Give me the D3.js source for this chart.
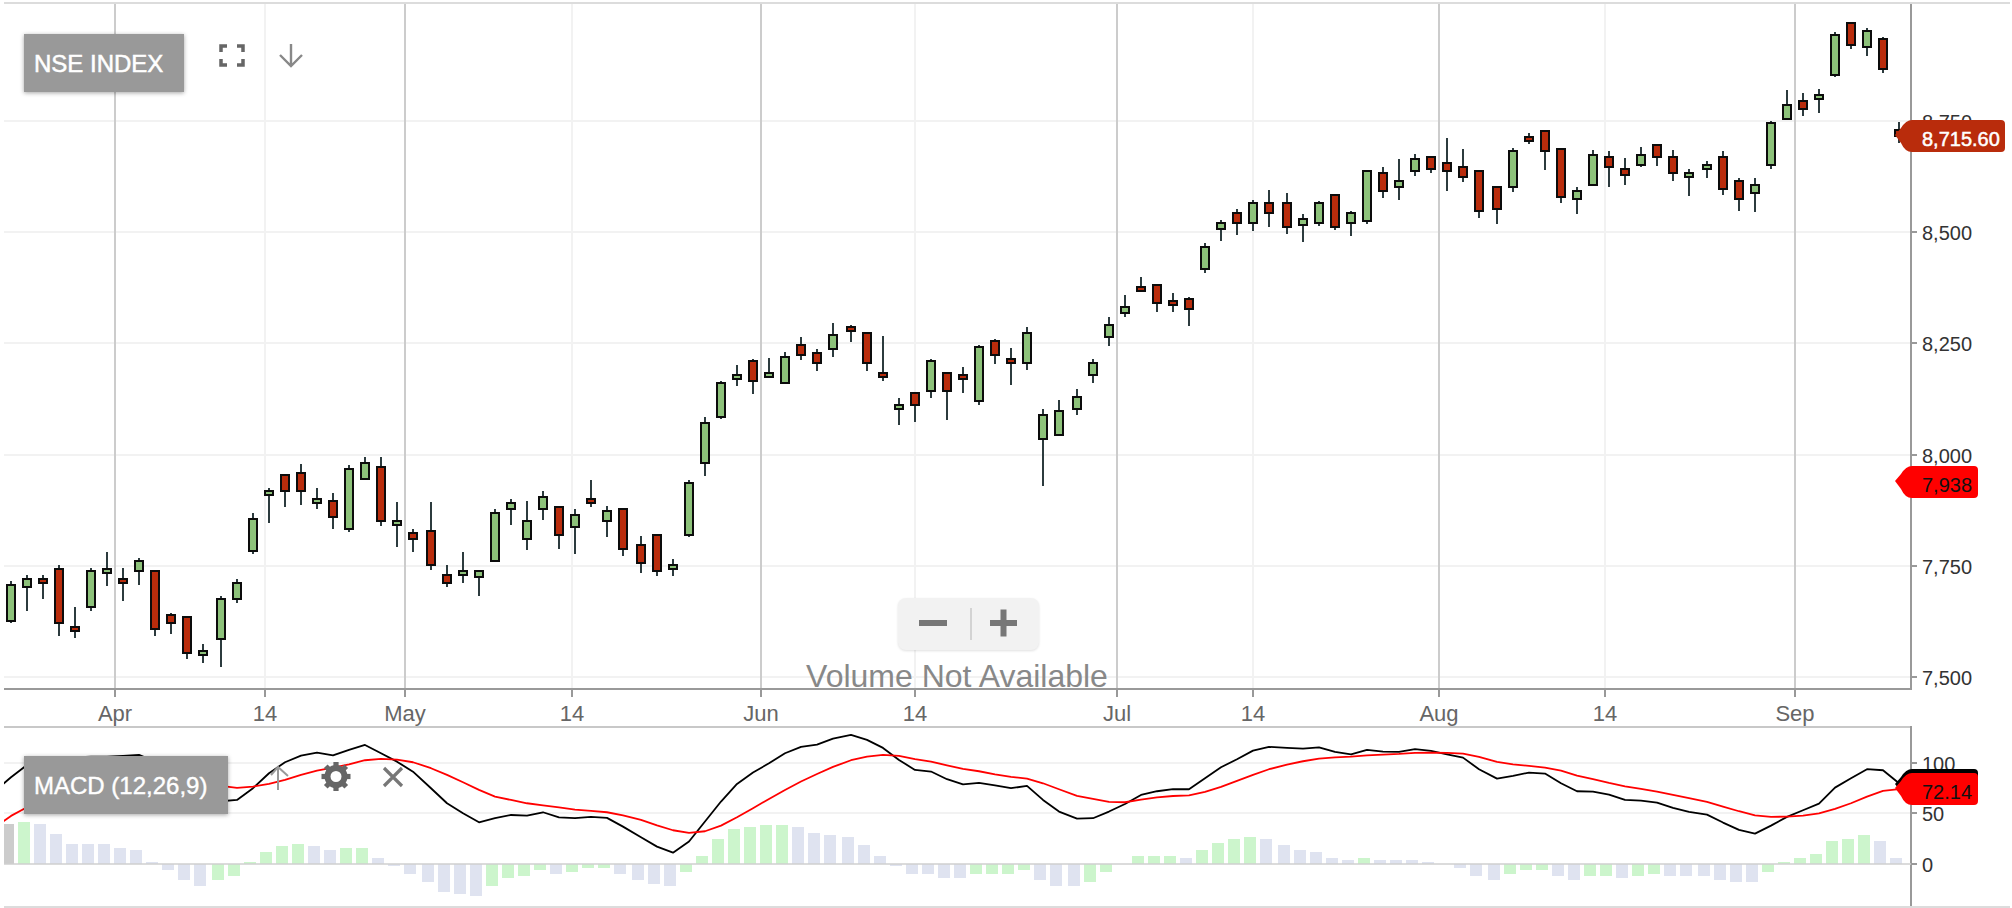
<!DOCTYPE html>
<html>
<head>
<meta charset="utf-8">
<title>NSE INDEX</title>
<script src="https://cdnjs.cloudflare.com/ajax/libs/d3/7.8.5/d3.min.js"></script>
<style>
html,body{margin:0;padding:0;background:#fff;}
svg{display:block;font-family:"Liberation Sans",Arial,sans-serif;}
</style>
</head>
<body>
<svg id="chart" width="2012" height="908"></svg>
<script>
const seriesName = "NSE INDEX";
const indicatorName = "MACD (12,26,9)";
const noVolumeText = "Volume Not Available";

const opens = [7626,7702,7720,7743,7612,7657,7734,7720,7738,7738,7640,7635,7550,7586,7675,7783,7909,7954,7959,7891,7896,7833,7945,7972,7842,7824,7828,7729,7729,7725,7761,
7878,7810,7878,7882,7837,7900,7851,7878,7797,7819,7743,7819,7981,8085,8170,8210,8174,8161,8246,8228,8237,8287,8273,8183,8103,8138,8143,8183,8179,8121,8255,
8215,8206,8035,8044,8103,8179,8264,8318,8377,8381,8345,8350,8417,8507,8543,8521,8566,8566,8516,8521,8584,8521,8525,8633,8602,8638,8669,8656,8647,8638,8602,
8602,8714,8727,8687,8575,8606,8669,8642,8651,8696,8669,8624,8642,8669,8615,8588,8651,8754,8795,8799,8853,8970,8916,8934,8730];
const highs = [7717,7730,7730,7752,7657,7745,7781,7744,7768,7739,7643,7636,7574,7682,7720,7868,7924,7955,7980,7926,7914,7977,7994,7994,7893,7833,7893,7752,7780,7741,7877,
7900,7896,7919,7884,7877,7943,7884,7879,7816,7822,7765,7943,8085,8166,8202,8215,8217,8231,8264,8237,8297,8291,8275,8267,8127,8139,8214,8184,8198,8246,8259,
8240,8288,8103,8122,8148,8214,8310,8358,8400,8383,8363,8355,8476,8527,8552,8572,8595,8587,8540,8571,8585,8548,8640,8646,8665,8675,8670,8711,8688,8640,8603,
8690,8723,8728,8690,8602,8684,8683,8667,8691,8697,8685,8641,8661,8683,8622,8622,8750,8819,8812,8823,8949,8971,8959,8938,8748];
const lows = [7622,7648,7675,7592,7587,7648,7705,7670,7708,7593,7596,7541,7532,7523,7667,7776,7846,7882,7887,7877,7832,7827,7944,7839,7793,7781,7740,7702,7712,7683,7758,
7841,7785,7854,7788,7776,7883,7815,7771,7734,7727,7727,7814,7952,8080,8154,8137,8173,8158,8212,8189,8219,8254,8187,8165,8067,8073,8127,8077,8138,8111,8204,
8156,8191,7930,8043,8090,8160,8245,8310,8367,8321,8320,8290,8409,8481,8494,8502,8511,8496,8479,8514,8505,8491,8519,8578,8573,8626,8632,8592,8612,8531,8519,
8591,8698,8639,8566,8542,8605,8602,8605,8646,8648,8615,8581,8621,8584,8548,8545,8643,8753,8761,8769,8848,8912,8896,8859,8700];
const closes = [7707,7720,7711,7621,7603,7738,7743,7711,7761,7608,7621,7554,7559,7675,7711,7855,7918,7918,7918,7900,7860,7968,7981,7851,7851,7810,7752,7711,7738,7738,7869,
7891,7851,7905,7819,7864,7891,7873,7788,7756,7738,7752,7936,8071,8161,8179,8165,8183,8219,8224,8206,8269,8278,8206,8174,8112,8112,8210,8143,8170,8242,8224,
8206,8273,8089,8098,8130,8206,8291,8332,8368,8341,8336,8327,8467,8521,8521,8566,8543,8512,8530,8566,8512,8543,8638,8593,8615,8665,8642,8638,8624,8548,8552,
8683,8705,8683,8579,8593,8674,8647,8629,8674,8669,8633,8633,8651,8597,8575,8606,8745,8786,8777,8808,8943,8921,8952,8867,8715.6];

const macdLine = [85.5,97.7,102,104.3,105.3,106,106,106.7,107.7,101,91,79.6,69.7,61.8,63.1,74.7,89.5,100.4,107,110,107.3,112.6,117.5,109.3,101,91.1,74.7,59.8,49.9,41,45,
48.2,47.6,50.9,45.9,45,46.3,45.3,36.7,26.1,16.9,10.9,21.9,41.7,61.5,78.9,90.2,99.4,109.3,115.6,117.9,123.8,127.5,122.5,114.6,102.7,92.8,91.2,83.6,78.6,79.9,77.6,
74.7,77,63.1,51.6,44.6,45,51.6,59.1,68,71.7,73.7,73.7,84.6,95.4,103.4,111.9,115.6,114.6,113.9,115.2,110.6,108.3,112.6,111,110.6,113.3,111.6,108.3,105,93.5,84.2,
86.9,90.2,89.2,79.6,71.7,71.4,68.4,63.1,62.4,60.5,55.2,51.2,48.6,40.7,33.4,29.8,37.7,46.3,52.9,59.5,75.3,84.6,93.5,92.5,79.6];
const signalLine = [47.3,55.8,63,69.7,74.6,79.6,82.9,85.5,86.9,86.9,85.5,82.9,79.6,77,75,76.3,79,82.9,87.9,92.1,95.1,98.4,102.4,103.7,103,100.4,94.5,87.9,80.6,73,66.4,
63.1,59.8,57.8,55.8,53.5,52.2,50.9,47.9,43.3,38,33.1,30.4,32.1,37.7,45.9,54.9,64.1,73,81.3,88.8,95.8,102.4,106,107.7,106.7,103.4,101.1,97.4,93.8,91.5,88.5,
85.9,84.2,79.6,73.7,67.1,64.1,61.1,60.8,63.4,65.7,67,67.7,71,76,81.9,87.9,93.5,98.1,101.4,104,105.3,106,107.3,108,108.6,109.6,110,109.6,109,105.7,100.7,
98.4,96.8,95.1,92.1,87.2,83.6,79.9,76.6,74,71.4,68,64.8,61.1,56.5,51.9,47.9,46.3,46.6,47.6,49.9,54.2,59.8,66.4,72,73.7];
const macdBeforeStart = 72;
const signalBeforeStart = 36;
const histogram = [39.7,41.7,39.7,29.7,19.7,19.7,19.7,15.7,13.7,1.7,-6.3,-16.3,-22.3,-16.3,-12.3,1.7,11.7,17.7,19.7,17.7,13.7,15.7,15.7,5.7,-2.3,-10.3,-18.3,-28.3,-30.3,-32.3,-22.3,
-14,-12,-6,-10,-8,-4,-4,-10,-16,-20,-22,-8,8,24,34,36,38,38,36,30,28,26,18,8,-2,-10,-10,-14,-14,-10,-10,
-10,-6,-16,-22,-22,-18,-8,0,8,8,8,6,14,20,24,26,24,18,14,12,6,4,6,4,4,4,2,0,-4,-12,-16,
-10,-6,-6,-12,-16,-12,-12,-14,-12,-10,-12,-12,-12,-16,-18,-18,-8,2,6,10,22,24,28,22,6];

const timeTickIndex = [6.495,15.78,24.45,34.76,46.49,56.02,68.53,76.95,88.46,98.74,110.5];
const timeTickLabels = ["Apr","14","May","14","Jun","14","Jul","14","Aug","14","Sep"];
const monthTicks = ["Apr","May","Jun","Jul","Aug","Sep"];
const priceTicks = [7500,7750,8000,8250,8500,8750];
const macdTicks = [0,50,100];
const lastPrice = 8715.6;
const lastPriceLabel = "8,715.60";
const alertPrice = 7938;
const alertLabel = "7,938";
const lastMacdLabel = "72.14";

const svg = d3.select("#chart");
const left = 4, right = 1911;
const mainTop = 4, mainBottom = 689, subTop = 727, subBottom = 906;

const xRaw = d3.scaleLinear().domain([0,117]).range([10.09,1899.92]);
const xc = i => 2*Math.floor(xRaw(i)/2)+1;
const xTick = d3.scaleLinear().domain([0,117]).range([10.09,1899.92]).interpolate(d3.interpolateRound);
const y = d3.scaleLinear().domain([7473.1,9013]).range([mainBottom,mainTop]).interpolate(d3.interpolateRound);
const yM = d3.scaleLinear().domain([-41.9,135.3]).range([subBottom,subTop]);

const defs = svg.append("defs");
defs.append("clipPath").attr("id","subclip").append("rect")
  .attr("x",left).attr("y",subTop).attr("width",right-left).attr("height",subBottom-subTop);
const shadow = "drop-shadow(0 1px 2px rgba(0,0,0,.35))";

// frame
svg.append("line").attr("x1",left).attr("x2",2010).attr("y1",3).attr("y2",3).attr("stroke","#dcdcdc").attr("stroke-width",2);
svg.append("line").attr("x1",left).attr("x2",right).attr("y1",subTop).attr("y2",subTop).attr("stroke","#c8c8c8").attr("stroke-width",2);
svg.append("line").attr("x1",left).attr("x2",2010).attr("y1",subBottom+1).attr("y2",subBottom+1).attr("stroke","#dcdcdc").attr("stroke-width",2);

// horizontal grid
svg.append("g").selectAll("line").data(priceTicks).join("line")
  .attr("x1",left).attr("x2",right).attr("y1",d=>y(d)).attr("y2",d=>y(d))
  .attr("stroke","#f2f2f2").attr("stroke-width",2);
svg.append("g").selectAll("line").data([50,100]).join("line")
  .attr("x1",left).attr("x2",right).attr("y1",d=>Math.round(yM(d))).attr("y2",d=>Math.round(yM(d)))
  .attr("stroke","#f2f2f2").attr("stroke-width",2);

// vertical grid
svg.append("g").selectAll("line").data(timeTickIndex).join("line")
  .attr("x1",d=>xTick(d)).attr("x2",d=>xTick(d)).attr("y1",mainTop).attr("y2",mainBottom)
  .attr("stroke",(d,i)=>monthTicks.includes(timeTickLabels[i])?"#cccccc":"#f2f2f2").attr("stroke-width",2);

// axes
const xAxis = d3.axisBottom(xTick).tickValues(timeTickIndex)
  .tickFormat((d,i)=>timeTickLabels[i]).tickSize(8).tickSizeOuter(0).offset(0);
const gx = svg.append("g").attr("transform",`translate(0,${mainBottom})`).call(xAxis);
gx.select(".domain").remove();
gx.selectAll("line").attr("stroke","#999").attr("stroke-width",2);
gx.selectAll("text").attr("y",32).attr("dy",0).attr("fill","#666").style("font-size","22px");

const yAxis = d3.axisRight(y).tickValues(priceTicks).tickFormat(d3.format(",")).tickSize(6).offset(0);
const gy = svg.append("g").attr("transform",`translate(${right},0)`).call(yAxis);
gy.select(".domain").remove();
gy.selectAll("line").attr("stroke","#999").attr("stroke-width",2);
gy.selectAll("text").attr("x",11).attr("y",8).attr("dy",0).attr("fill","#333").style("font-size","20px");

const yMAxis = d3.axisRight(d3.scaleLinear().domain(yM.domain()).range(yM.range()).interpolate(d3.interpolateRound))
  .tickValues(macdTicks).tickFormat(d3.format("d")).tickSize(6).offset(0);
const gyM = svg.append("g").attr("transform",`translate(${right},0)`).call(yMAxis);
gyM.select(".domain").remove();
gyM.selectAll("line").attr("stroke","#999").attr("stroke-width",2);
gyM.selectAll("text").attr("x",11).attr("y",8).attr("dy",0).attr("fill","#333").style("font-size","20px");

// axis lines
svg.append("line").attr("x1",left).attr("x2",right+1).attr("y1",mainBottom).attr("y2",mainBottom).attr("stroke","#999").attr("stroke-width",2);
svg.append("line").attr("x1",right).attr("x2",right).attr("y1",mainTop).attr("y2",mainBottom).attr("stroke","#999").attr("stroke-width",2);
svg.append("line").attr("x1",right).attr("x2",right).attr("y1",subTop-1).attr("y2",subBottom).attr("stroke","#999").attr("stroke-width",2);

// candles
const idx = d3.range(opens.length);
const candles = svg.append("g").selectAll("g").data(idx).join("g");
candles.append("line")
  .attr("x1",xc).attr("x2",xc).attr("y1",i=>y(highs[i])).attr("y2",i=>y(lows[i]))
  .attr("stroke","#2c3b3e").attr("stroke-width",2);
candles.append("rect")
  .attr("x",i=>xc(i)-4).attr("width",8)
  .attr("y",i=>y(Math.max(opens[i],closes[i])))
  .attr("height",i=>Math.max(1,y(Math.min(opens[i],closes[i]))-y(Math.max(opens[i],closes[i]))))
  .attr("fill",i=>closes[i]>=opens[i]?"#8dc27a":"#b92c0c")
  .attr("stroke","#0c0c0c").attr("stroke-width",2);

// histogram: a bar is green while the value rises and blue while it falls
const sub = svg.append("g").attr("clip-path","url(#subclip)");
let lastColor = "#ccf5cc";
const histColors = histogram.map((v,i)=>{
  if(i===0) return "#cccccc";
  if(v>histogram[i-1]) lastColor = "#ccf5cc";
  else if(v<histogram[i-1]) lastColor = "#dfe3f0";
  return lastColor;
});
const y0 = Math.round(yM(0));
sub.append("g").selectAll("rect").data(idx).join("rect")
  .attr("x",i=>xc(i)-9).attr("width",12)
  .attr("y",i=>Math.min(Math.round(yM(histogram[i])),y0))
  .attr("height",i=>Math.abs(Math.round(yM(histogram[i]))-y0))
  .attr("fill",i=>histColors[i]);
svg.append("line").attr("x1",left).attr("x2",right).attr("y1",y0).attr("y2",y0).attr("stroke","#cfcfcf").attr("stroke-width",1.6);

// lines
const lineFor = (lead,vals)=>d3.line().x(d=>d.x).y(d=>yM(d.v))(
  [{x:xc(0)-16,v:lead}].concat(vals.map((v,i)=>({x:xc(i),v}))));
sub.append("path").attr("d",lineFor(macdBeforeStart,macdLine)).attr("fill","none").attr("stroke","#000").attr("stroke-width",1.8).attr("stroke-linejoin","round");
sub.append("path").attr("d",lineFor(signalBeforeStart,signalLine)).attr("fill","none").attr("stroke","#f00").attr("stroke-width",1.8).attr("stroke-linejoin","round");

// price tags
function tag(tipY,rightX,fill,label,textFill,strokeW,withText){
  const tipX=1895, top=tipY-15, bot=tipY+17, r=4;
  const d=`M${tipX},${tipY} L${tipX+6},${tipY-7} Q${tipX+11},${top} ${tipX+17},${top} L${rightX-r},${top} Q${rightX},${top} ${rightX},${top+r} L${rightX},${bot-r} Q${rightX},${bot} ${rightX-r},${bot} L${tipX+17},${bot} Q${tipX+10},${bot} ${tipX+6},${tipY+8} Z`;
  svg.append("path").attr("d",d).attr("fill",fill);
  if(withText) svg.append("text").attr("x",1922).attr("y",top+26).attr("fill",textFill)
    .attr("stroke",textFill).attr("stroke-width",strokeW).style("font-size","20px").text(label);
}
tag(y(lastPrice)-1,2005,"#b92c0c",lastPriceLabel,"#fff",0.5,true);
tag(y(alertPrice)-1,1978,"#ff0000",alertLabel,"#111",0,true);
tag(784,1978,"#000000","", "#000",0,false);
tag(788,1978,"#ff0000",lastMacdLabel,"#111",0,true);

// zoom control and volume note
svg.append("rect").attr("x",898).attr("y",598).attr("width",141).attr("height",52).attr("rx",8).attr("fill","#f2f2f2").style("filter","drop-shadow(0 1px 1px rgba(0,0,0,.12))");
svg.append("rect").attr("x",919).attr("y",620).attr("width",28).attr("height",6).attr("fill","#777");
svg.append("rect").attr("x",990).attr("y",620).attr("width",27).attr("height",6).attr("fill","#777");
svg.append("rect").attr("x",1000.5).attr("y",609.5).attr("width",6).attr("height",27).attr("fill","#777");
svg.append("line").attr("x1",971).attr("x2",971).attr("y1",608).attr("y2",640).attr("stroke","#c8c8c8").attr("stroke-width",1.5);
svg.append("text").attr("x",957).attr("y",687).attr("text-anchor","middle").attr("fill","#888").style("font-size","32px").text(noVolumeText);

// title boxes
svg.append("rect").attr("x",24).attr("y",34).attr("width",160).attr("height",58).attr("fill","#999").style("filter",shadow);
svg.append("text").attr("x",34).attr("y",72).attr("fill","#fff").attr("stroke","#fff").attr("stroke-width",0.5).style("font-size","24px").text(seriesName);
svg.append("rect").attr("x",24).attr("y",756).attr("width",204).attr("height",58).attr("fill","#999").style("filter",shadow);
svg.append("text").attr("x",34).attr("y",794).attr("fill","#fff").attr("stroke","#fff").attr("stroke-width",0.4).style("font-size","24px").text(indicatorName);

// toolbar icons
svg.append("path").attr("d","M221,52V46H227 M237,46H243V52 M221,59V65H227 M237,65H243V59").attr("fill","none").attr("stroke","#666").attr("stroke-width",3.5);
svg.append("path").attr("d","M291,44V66 M280,55L291,66L302,55").attr("fill","none").attr("stroke","#888").attr("stroke-width",2.4);
svg.append("path").attr("d","M278,790V767 M271,775L278,767L288,776").attr("fill","none").attr("stroke","#999").attr("stroke-width",2);
const gear = svg.append("g").attr("transform","translate(336,776.5)");
gear.append("circle").attr("r",8.5).attr("fill","none").attr("stroke","#666").attr("stroke-width",6);
gear.selectAll("rect").data(d3.range(8)).join("rect")
  .attr("x",-2.6).attr("y",-14.5).attr("width",5.2).attr("height",5).attr("fill","#666")
  .attr("transform",d=>`rotate(${d*45})`);
svg.append("path").attr("d","M384,768L402,786 M402,768L384,786").attr("fill","none").attr("stroke","#777").attr("stroke-width",3.2);
</script>
</body>
</html>
